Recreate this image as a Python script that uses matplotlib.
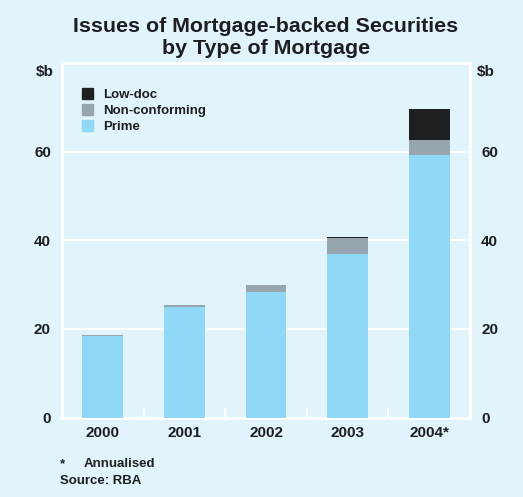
import numpy as np
import matplotlib
matplotlib.use("Agg")
import matplotlib.pyplot as plt
from matplotlib.patches import Patch

plt.rcParams['font.family'] = ['Liberation Sans', 'DejaVu Sans']
plt.rcParams['font.weight'] = 'bold'

years = ['2000', '2001', '2002', '2003', '2004*']
prime = [18.3, 24.9, 28.3, 37.0, 59.2]
non_conforming = [0.25, 0.4, 1.6, 3.4, 3.4]
low_doc = [0.0, 0.0, 0.0, 0.4, 7.0]

bg = '#e1f3fb'
ink = '#1d1e22'
c_prime = '#8fd8f6'
c_nc = '#97a6ae'
c_low = '#1d1f23'

fig = plt.figure(figsize=(5.23, 4.97), dpi=100, facecolor=bg)
ax = fig.add_axes([62 / 523, 1 - 417.5 / 497, 408 / 523, 354.5 / 497])
ax.set_facecolor(bg)

x = np.arange(len(years))
w = 0.5
prime = np.array(prime)
nc = np.array(non_conforming)
ld = np.array(low_doc)
ax.bar(x, prime, w, color=c_prime, zorder=3)
ax.bar(x, nc, w, bottom=prime, color=c_nc, zorder=3)
ax.bar(x, ld, w, bottom=prime + nc, color=c_low, zorder=3)

ax.set_xlim(-0.5, 4.5)
ax.set_ylim(0, 80)
ax.set_yticks([0, 20, 40, 60])
ax.yaxis.grid(True, color='white', lw=1.5, zorder=1)

for s in ax.spines.values():
    s.set_color('white')
    s.set_linewidth(2)

# category labels centred under bars, boundary ticks between categories
ax.set_xticks(x)
ax.set_xticklabels(years, fontsize=11, color=ink)
ax.tick_params(axis='x', length=0, pad=6)
ax.set_xticks(np.arange(0.5, 4.5, 1), minor=True)
ax.tick_params(axis='x', which='minor', direction='in', length=7, width=1.5, color='white')

ax.tick_params(axis='y', length=0, labelsize=11, labelcolor=ink, pad=8,
               labelright=True, right=False)

handles = [Patch(color=c_low, label='Low-doc'),
           Patch(color=c_nc, label='Non-conforming'),
           Patch(color=c_prime, label='Prime')]
leg = ax.legend(handles=handles, loc='upper left', bbox_to_anchor=(0.035, 0.945),
                frameon=False, fontsize=9.5, handlelength=0.9, handleheight=0.9,
                handletextpad=0.7, labelspacing=0.25, borderaxespad=0)
for t in leg.get_texts():
    t.set_color(ink)

fig.text(0.508, 1 - 38 / 497, 'Issues of Mortgage-backed Securities\nby Type of Mortgage',
         ha='center', va='center', fontsize=15.4, color=ink, linespacing=1.2)
fig.text(54 / 523, 1 - 72 / 497, '$b', ha='right', va='center', fontsize=11, color=ink)
fig.text(477 / 523, 1 - 72 / 497, '$b', ha='left', va='center', fontsize=11, color=ink)
fig.text(60 / 523, 1 - 464 / 497, '*', ha='left', va='center', fontsize=9.5, color=ink)
fig.text(84 / 523, 1 - 464 / 497, 'Annualised', ha='left', va='center', fontsize=9.5, color=ink)
fig.text(60 / 523, 1 - 481 / 497, 'Source: RBA', ha='left', va='center', fontsize=9.5, color=ink)

fig.savefig('out.png', dpi=100, facecolor=bg)
